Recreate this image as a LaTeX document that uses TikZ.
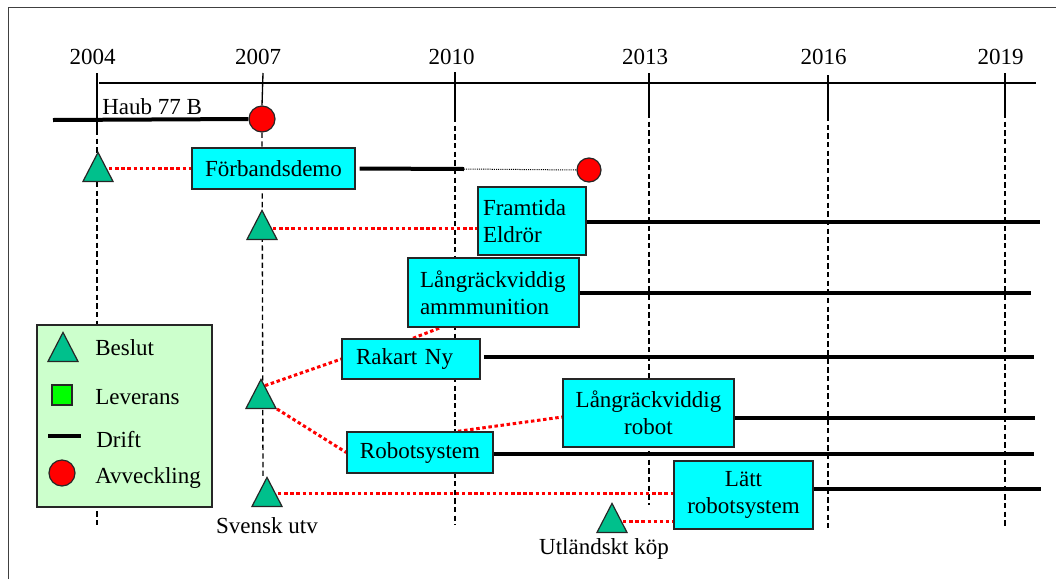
\documentclass[tikz,border=0pt]{standalone}
\usepackage{fontspec}
\setmainfont{Liberation Serif}
\usetikzlibrary{shapes.geometric,calc}
\pgfdeclarelayer{background}
\pgfsetlayers{background,main}
\definecolor{boxcyan}{RGB}{0,255,255}
\definecolor{trigreen}{RGB}{0,192,140}
\definecolor{legfill}{RGB}{204,255,204}
\definecolor{sqgreen}{RGB}{0,255,0}
\begin{document}
\begin{tikzpicture}[x=0.75pt,y=-0.75pt,
  every node/.style={font=\fontsize{17.25pt}{20.25pt}\selectfont, inner sep=0pt},
  cbox/.style={draw=black!85, line width=1.1pt, fill=boxcyan, align=center},
  tri/.style={isosceles triangle, isosceles triangle stretches, shape border rotate=90,
    minimum width=30*0.75pt, minimum height=29*0.75pt, draw=black!85, line width=0.9pt,
    fill=trigreen, inner sep=0pt},
  endc/.style={circle, draw=black!85, line width=0.9pt, fill=red, minimum size=26*0.75pt},
  drift/.style={line width=3pt},
  reddot/.style={red, line width=2.25pt, dash pattern=on 2.6pt off 2pt},
  vsolid/.style={line width=1pt},
  vdash/.style={line width=1pt, dash pattern=on 4pt off 2.5pt},
  lbl/.style={anchor=base}
]
\useasboundingbox (0,0) rectangle (1056,579);
% frame
\draw[line width=1.1pt, black!75] (8.5,579) -- (8.5,7.5) -- (1056,7.5);

% year labels
\node[lbl] (y2004) at (92.5,64) {2004};
\node[lbl] (y2007) at (258,64) {2007};
\node[lbl] (y2010) at (451.5,64) {2010};
\node[lbl] (y2013) at (645,64) {2013};
\node[lbl] (y2016) at (823.5,64) {2016};
\node[lbl] (y2019) at (1000.5,64) {2019};

% end circles
\node[endc] (c1) at (262,119) {};
\node[endc, minimum size=24*0.75pt] (c2) at (589,170) {};
\node[anchor=base west] (haub) at (102,114) {Haub 77 B};

% boxes
\node[cbox, minimum width=163*0.75pt, minimum height=41*0.75pt] (demo) at (273.5,168.5) {Förbandsdemo};
\node[cbox, align=left, text width=98*0.75pt, inner xsep=5*0.75pt, minimum height=68*0.75pt] (fram) at (532,221) {Framtida\\Eldrör};
\node[cbox, align=left, text width=147*0.75pt, inner xsep=12*0.75pt, minimum height=69*0.75pt] (ammo) at (493.5,292.5) {Långräckviddig\\ammmunition};
\node[cbox, align=left, text width=110*0.75pt, inner xsep=14*0.75pt, minimum height=40*0.75pt] (rakart) at (411,359) {Rakart Ny};
\node[cbox, minimum width=146*0.75pt, minimum height=41*0.75pt] (robots) at (420,452.5) {Robotsystem};
\node[cbox, text width=171*0.75pt, minimum height=68*0.75pt] (robot) at (648.5,413) {Långräckviddig\\robot};
\node[cbox, text width=139*0.75pt, minimum height=68*0.75pt] (latt) at (743.5,495) {Lätt\\robotsystem};

% triangles
\node[tri, anchor=south] (t1) at (98,182) {};
\node[tri, anchor=south] (t2) at (262,240) {};
\node[tri, anchor=south] (t3) at (261,409) {};
\node[tri, anchor=south] (t4) at (267,507) {};
\node[tri, anchor=south] (t5) at (612,533) {};
\node[lbl] (sv) at (267,533) {Svensk utv};
\node[lbl] (ut) at (604,554) {Utländskt köp};

% legend
\node[draw=black!85, line width=1.1pt, fill=legfill, minimum width=175*0.75pt, minimum height=182*0.75pt] (leg) at (124.5,416) {};
\node[tri, anchor=south] (lt) at (63,362) {};
\node[draw=black!85, line width=0.9pt, fill=sqgreen, minimum size=20*0.75pt] (lsq) at (62,395) {};
\coordinate (ld1) at (48,436);
\coordinate (ld2) at (81,436);
\draw[drift] (ld1) -- (ld2);
\node[endc] (lc) at (62,473) {};
\node[anchor=base west] (lb1) at (95,355) {Beslut};
\node[anchor=base west] (lb2) at (95,404) {Leverans};
\node[anchor=base west] (lb3) at (96,447) {Drift};
\node[anchor=base west] (lb4) at (95,483) {Avveckling};

% end coordinates of drift lines
\coordinate (hs) at (53,120);
\coordinate (de) at (464,169);
\coordinate (fe) at (1040,222);
\coordinate (ae) at (1031,293);
\coordinate (re) at (1034,357);
\coordinate (rbe) at (1035,418);
\coordinate (rse) at (1034,454);
\coordinate (le) at (1041,489);

\begin{pgfonlayer}{background}
% axis
\draw[line width=1.1pt] (99,83) -- (1036,83);
% verticals
\draw[vsolid] (97,73) -- (97,130);
\draw[vdash] (97,130) -- (97,527);
\draw[vsolid] (263,73) -- (c1.north);
\draw[vdash] (c1.south) -- (263,478);
\draw[vsolid] (455,72) -- (455,117);
\draw[vdash] (455,117) -- (455,525);
\draw[vsolid] (649,73) -- (649,113);
\draw[vdash] (649,113) -- (649,505);
\draw[vsolid] (828,75) -- (828,116);
\draw[vdash] (828,116) -- (828,528);
\draw[vsolid] (1005,73) -- (1005,113);
\draw[vdash] (1005,113) -- (1005,526);

% drift lines
\draw[drift] (hs) -- (c1.west);
\draw[drift] ([xshift=3pt]demo.east) -- (de);
\draw[line width=0.75pt, dash pattern=on 0.8pt off 0.8pt] (de) -- (c2.west);
\draw[drift] (fram.east |- fe) -- (fe);
\draw[drift] (ammo.east |- ae) -- (ae);
\draw[drift] ([xshift=2.3pt]rakart.east |- re) -- (re);
\draw[drift] (robot.east |- rbe) -- (rbe);
\draw[drift] (robots.east |- rse) -- (rse);
\draw[drift] (latt.east |- le) -- (le);

% red dotted connectors
\draw[reddot] ([yshift=3pt]t1.east) -- ([yshift=3pt]t1.east -| demo.west);
\draw[reddot] ([yshift=1.5pt]t2.east) -- ([yshift=1.5pt]t2.east -| fram.west);
\draw[reddot] ($(t3.apex)!0.25!(t3.right corner)$) -- (rakart.west);
\draw[reddot] (t3.right corner) -- (robots.west);
\draw[reddot] ([xshift=1.5pt]rakart.north) -- ([xshift=-40pt]ammo.south);
\draw[reddot] ([xshift=28.5pt]robots.north) -- ([yshift=-3pt]robot.west);
\draw[reddot] ([yshift=3pt]t4.east) -- ([yshift=3pt]t4.east -| latt.west);
\draw[reddot] ([yshift=1.5pt]t5.east) -- ([yshift=1.5pt]t5.east -| latt.west);
\end{pgfonlayer}
\end{tikzpicture}
\end{document}
